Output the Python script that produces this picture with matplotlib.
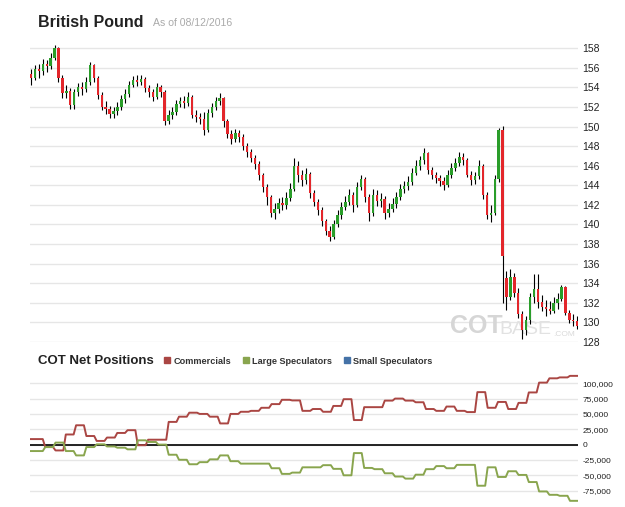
import numpy as np
import matplotlib.pyplot as plt
from matplotlib.lines import Line2D

plt.rcParams['font.family'] = ['Liberation Sans', 'DejaVu Sans']

# --- price candles (British Pound futures) ---
opens = [155.4, 155.0, 155.9, 155.7, 156.4, 156.2, 157.0, 158.0, 155.0, 153.4,
         153.6, 152.2, 153.5, 154.0, 153.8, 154.6, 156.3, 155.0, 153.2, 152.0,
         151.8, 151.3, 151.6, 152.0, 152.8, 153.3, 154.3, 154.8, 154.6, 154.9,
         153.9, 153.5, 153.0, 154.0, 153.5, 150.6, 151.2, 151.5, 152.3, 152.6,
         152.4, 153.0, 151.2, 151.0, 150.8, 149.6, 151.4, 152.0, 152.6, 152.9,
         150.6, 149.2, 148.7, 149.3, 148.9, 148.0, 147.4, 146.8, 146.2, 145.0,
         143.8, 142.8, 141.2, 141.6, 142.2, 142.0, 142.7, 143.6, 146.0, 145.0,
         144.5, 145.2, 143.2, 142.3, 141.5, 140.3, 139.3, 138.7, 140.0, 141.0,
         141.8, 142.3, 143.0, 142.0, 143.8, 144.6, 142.8, 141.2, 143.0, 142.4,
         142.6, 141.2, 141.6, 142.1, 142.8, 143.6, 143.9, 144.3, 145.3, 146.0,
         146.6, 147.3, 145.6, 145.0, 144.7, 144.4, 144.0, 145.0, 145.8, 146.3,
         146.9, 146.6, 145.1, 144.5, 144.9, 146.0, 143.0, 141.0, 141.2, 144.6,
         149.6, 134.5, 132.6, 134.6, 133.0, 130.8, 129.2, 130.2, 132.6, 133.4,
         132.1, 131.6, 131.4, 131.2, 132.0, 132.4, 133.6, 130.9, 130.2, 130.1]
closes = [155.0, 155.9, 155.7, 156.4, 156.2, 157.0, 158.0, 155.0, 153.4, 153.6,
          152.2, 153.5, 154.0, 153.8, 154.6, 156.3, 155.0, 153.2, 152.0, 151.8,
          151.3, 151.6, 152.0, 152.8, 153.3, 154.3, 154.8, 154.6, 154.9, 153.9,
          153.5, 153.0, 154.0, 153.5, 150.6, 151.2, 151.5, 152.3, 152.6, 152.4,
          153.0, 151.2, 151.0, 150.8, 149.6, 151.4, 152.0, 152.6, 152.9, 150.6,
          149.2, 148.7, 149.3, 148.9, 148.0, 147.4, 146.8, 146.2, 145.0, 143.8,
          142.8, 141.2, 141.6, 142.2, 142.0, 142.7, 143.6, 146.0, 145.0, 144.5,
          145.2, 143.2, 142.3, 141.5, 140.3, 139.3, 138.7, 140.0, 141.0, 141.8,
          142.3, 143.0, 142.0, 143.8, 144.6, 142.8, 141.2, 143.0, 142.4, 142.6,
          141.2, 141.6, 142.1, 142.8, 143.6, 143.9, 144.3, 145.3, 146.0, 146.6,
          147.3, 145.6, 145.0, 144.7, 144.4, 144.0, 145.0, 145.8, 146.3, 146.9,
          146.6, 145.1, 144.5, 144.9, 146.0, 143.0, 141.0, 141.2, 144.6, 149.6,
          136.8, 132.6, 134.6, 133.0, 130.8, 129.2, 130.2, 132.6, 133.4, 132.1,
          131.6, 131.4, 131.2, 132.0, 132.4, 133.6, 130.9, 130.2, 130.1, 129.6]
highs = [155.9, 156.3, 156.4, 156.9, 156.8, 157.5, 158.3, 158.1, 155.3, 154.2,
         153.9, 153.8, 154.5, 154.6, 155.1, 156.6, 156.4, 155.2, 153.5, 152.6,
         152.1, 152.0, 152.5, 153.2, 153.8, 154.7, 155.2, 155.3, 155.3, 155.1,
         154.3, 153.8, 154.5, 154.3, 153.7, 151.7, 152.0, 152.7, 153.0, 153.1,
         153.5, 153.2, 151.7, 151.4, 151.5, 151.8, 152.4, 153.0, 153.4, 153.0,
         150.8, 149.6, 149.8, 149.6, 149.2, 148.3, 147.7, 147.1, 146.5, 145.3,
         144.1, 143.0, 142.2, 142.7, 142.8, 143.3, 144.2, 146.8, 146.5, 145.6,
         145.8, 145.4, 143.5, 142.6, 141.8, 140.6, 139.8, 140.4, 141.5, 142.3,
         142.9, 143.6, 143.3, 144.3, 145.1, 144.8, 143.1, 143.6, 143.5, 143.2,
         142.9, 142.2, 142.7, 143.3, 144.1, 144.4, 144.9, 145.8, 146.6, 147.0,
         147.8, 147.4, 145.9, 145.4, 145.1, 144.8, 145.6, 146.3, 146.8, 147.4,
         147.3, 146.8, 145.5, 145.4, 146.6, 146.2, 143.3, 142.0, 145.0, 149.9,
         150.1, 135.2, 135.4, 135.0, 133.5, 131.2, 130.6, 133.0, 134.9, 134.9,
         132.8, 132.3, 132.2, 132.6, 133.0, 133.8, 133.7, 131.3, 130.8, 130.6]
lows = [154.3, 154.8, 155.0, 155.3, 155.6, 155.9, 156.8, 154.6, 152.9, 152.9,
        151.8, 151.8, 153.1, 153.2, 153.5, 154.3, 154.6, 152.8, 151.7, 151.3,
        150.9, 150.9, 151.2, 151.7, 152.4, 153.0, 154.0, 154.1, 154.2, 153.5,
        153.0, 152.6, 152.8, 153.0, 150.2, 150.3, 150.8, 151.2, 152.0, 151.9,
        152.1, 150.9, 150.5, 150.3, 149.1, 149.4, 151.0, 151.7, 152.2, 150.0,
        148.8, 148.2, 148.4, 148.4, 147.6, 146.9, 146.4, 145.7, 144.5, 143.3,
        142.0, 140.8, 140.6, 141.2, 141.5, 141.6, 142.4, 143.4, 144.3, 143.9,
        144.1, 142.7, 141.9, 141.0, 139.8, 138.9, 138.3, 138.5, 139.7, 140.6,
        141.5, 142.0, 141.3, 141.8, 143.5, 142.3, 140.3, 140.9, 141.9, 141.8,
        140.6, 140.8, 141.3, 141.7, 142.5, 143.2, 143.5, 144.0, 145.0, 145.6,
        146.2, 145.2, 144.6, 144.2, 143.9, 143.5, 143.8, 144.7, 145.5, 146.0,
        146.1, 144.8, 144.0, 144.1, 144.6, 142.6, 140.6, 140.2, 141.0, 144.3,
        132.0, 131.3, 132.3, 132.6, 130.4, 128.3, 128.7, 129.8, 132.0, 131.5,
        131.1, 130.6, 130.8, 130.9, 131.4, 132.2, 130.7, 129.9, 129.6, 129.3]

price_ticks = list(range(128, 159, 2))

# --- COT net positions, one value per week ---
commercials = [9000, -4000, -9500, 16500, 31500, 14000, 6000, 11500, 19000, 23500,
               -1000, 8000, 8000, 37000, 45500, 52000, 50000, 45500, 34500, 50000,
               53500, 55000, 60000, 66000, 73000, 72000, 55000, 58000, 53500, 63000,
               74000, 40000, 61000, 61000, 71700, 75000, 71700, 69000, 58000, 55000,
               62000, 55000, 53000, 85500, 60000, 69500, 58000, 68000, 85000, 101000,
               108000, 109500, 112000]
large_specs = [-10500, -4000, 3300, -10500, -17600, -4000, 500, -3000, -5000, -7700,
               7000, 4300, 0, -16500, -24700, -32000, -28600, -24000, -17600, -27000,
               -31000, -31000, -31000, -38500, -47700, -45600, -37000, -37000, -33500, -39500,
               -50000, -13800, -38000, -40000, -46700, -52000, -55400, -49000, -40000, -35000,
               -38500, -33000, -33000, -67000, -37000, -52700, -43400, -49400, -61000, -76300,
               -81800, -83400, -91600]
cot_ticks = [-75000, -50000, -25000, 0, 25000, 50000, 75000, 100000]

series_names = ['Commercials', 'Large Speculators', 'Small Speculators']
series_colors = ['#AA4643', '#89A54E', '#4572A7']

fig = plt.figure(figsize=(6.25, 5.07), dpi=100)
W, H = 625, 507

# top panel
ax = fig.add_axes([30 / W, 1 - 342.3 / H, 548 / W, 302.3 / H])
o = np.array(opens)
c = np.array(closes)
x = np.arange(len(c))
up = c >= o
col = np.where(up, '#2a9d2a', '#e3262b')
ax.vlines(x, lows, highs, color='black', lw=0.8, zorder=2)
body = np.maximum(np.abs(c - o), 0.1)
ax.bar(x, body, bottom=np.minimum(o, c), width=0.6, color=col, zorder=3)

ax.set_xlim(-0.25, 139.2)
ax.set_ylim(127.95, 158.85)
ax.set_yticks(price_ticks)
ax.yaxis.tick_right()
ax.tick_params(axis='y', length=0, pad=3, labelsize=7.5, labelcolor='#222222')
ax.set_xticks([])
ax.grid(axis='y', color='#e6e6e6', lw=1, zorder=0)
ax.set_axisbelow(True)
for s in ax.spines.values():
    s.set_visible(False)

# watermark
ax.text((450 - 30) / 548, 0.015, 'COT', transform=ax.transAxes, fontsize=18,
        fontweight='bold', color='#d6d6d6', zorder=1, va='bottom')
ax.text((499 - 30) / 548, 0.015, 'BASE', transform=ax.transAxes, fontsize=14,
        color='#e2e2e2', zorder=1, va='bottom')
ax.text((553 - 30) / 548, 0.015, '.COM', transform=ax.transAxes, fontsize=6,
        color='#dadada', zorder=1, va='bottom')

# bottom panel
ax2 = fig.add_axes([30 / W, 1 - 503.9 / H, 548 / W, 131.9 / H])
x0, x1 = -0.36, 52.9
ramp = 0.12


def step_points(vals):
    xs, ys = [], []
    for k, v in enumerate(vals):
        xs += [x0 if k == 0 else k + ramp, x1 if k == len(vals) - 1 else k + 1 - ramp]
        ys += [v, v]
    return xs, ys


ax2.axhline(0, color='black', lw=1.2, zorder=2)
for vals, colr in [(commercials, series_colors[0]), (large_specs, series_colors[1])]:
    xs, ys = step_points(vals)
    ax2.plot(xs, ys, color=colr, lw=1.4, zorder=3)

ax2.set_xlim(x0, x1)
ax2.set_ylim(-96600, 118300)
ax2.set_yticks(cot_ticks)
ax2.set_yticklabels(['{:,}'.format(t) for t in cot_ticks])
ax2.yaxis.tick_right()
ax2.tick_params(axis='y', length=0, pad=3, labelsize=6, labelcolor='#222222')
ax2.set_xticks([])
ax2.grid(axis='y', color='#e6e6e6', lw=1, zorder=0)
ax2.set_axisbelow(True)
for s in ax2.spines.values():
    s.set_visible(False)

# titles
fig.text(38 / W, 1 - 27 / H, 'British Pound', fontsize=11.5, fontweight='bold',
         color='#222222', va='baseline')
fig.text(153 / W, 1 - 26 / H, 'As of 08/12/2016', fontsize=7.6, color='#aaaaaa',
         va='baseline')
fig.text(38 / W, 1 - 361 / H, 'COT Net Positions', fontsize=9.5, fontweight='bold',
         color='#222222', va='center')

handles = [Line2D([], [], ls='none', marker='s', markersize=4, color=cc) for cc in series_colors]
fig.legend(handles, series_names, loc='center left', bbox_to_anchor=(164 / W, 1 - 361 / H),
           ncol=3, frameon=False, handlelength=0.7, handletextpad=0.3, columnspacing=1.3,
           borderaxespad=0, borderpad=0, prop={'size': 6.6, 'weight': 'bold'},
           labelcolor='#333333')

fig.savefig('out.png', dpi=100)
